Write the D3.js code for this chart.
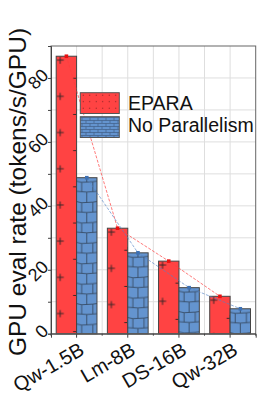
<!DOCTYPE html>
<html><head><meta charset="utf-8">
<script src="https://cdn.jsdelivr.net/npm/d3@7"></script>
<style>html,body{margin:0;padding:0;background:#fff}svg{display:block;font-family:"Liberation Sans",Arial,sans-serif}</style>
</head><body><svg id="c" width="280" height="395"></svg>
<script>
const categories = ["Qw-1.5B","Lm-8B","DS-16B","Qw-32B"];
const seriesNames = ["EPARA","No Parallelism"];
const epara = [86.8, 33.0, 22.7, 11.7];
const noPar = [48.8, 25.3, 14.4, 7.8];
const yTicks = [0,20,40,60,80];
const yTitle = "GPU eval rate (tokens/s/GPU)";

const svg = d3.select("#c");
const M = {l:51, r:255.7, t:46, b:333.7};
const x = d3.scaleBand().domain(categories).range([M.l, M.r]).padding(0);
const xs = d3.scaleBand().domain(seriesNames).range([0, x.bandwidth()]).paddingInner(0).paddingOuter(0.255);
const y = d3.scaleLinear().domain([0,90]).range([M.b, M.t]);
const RED = "#ff4343", BLUE = "#6494cf";
const defs = svg.append("defs");

// grid
const g = svg.append("g");
d3.range(10, 90, 10).forEach(v => g.append("line").attr("x1",M.l).attr("x2",M.r).attr("y1",y(v)).attr("y2",y(v)).attr("stroke","#dedede").attr("stroke-width",1));
const half = x.step()/2;
d3.range(1, categories.length*2).forEach(k => {
  const xx = M.l + k*half;
  g.append("line").attr("x1",xx).attr("x2",xx).attr("y1",M.t).attr("y2",M.b).attr("stroke","#dedede").attr("stroke-width",1);
});

const data = [];
categories.forEach((c,i) => {
  data.push({c, s:seriesNames[0], v:epara[i], i});
  data.push({c, s:seriesNames[1], v:noPar[i], i});
});

// patterns per bar
data.forEach((d,k) => {
  const bx = x(d.c) + xs(d.s), by = y(d.v), bw = xs.bandwidth();
  d.bx = bx; d.by = by; d.bw = bw; d.bh = y(0) - by;
  if (d.s === seriesNames[0]) {
    const p = defs.append("pattern").attr("id","pr"+k).attr("patternUnits","userSpaceOnUse")
      .attr("x",bx).attr("y",by).attr("width",33).attr("height",36.2);
    p.append("rect").attr("width",33).attr("height",36.2).attr("fill",RED);
    [[4,4],[20.5,22.1]].forEach(([cx,cy]) => {
      p.append("path").attr("d",`M${cx-3.6},${cy}H${cx+3.6}M${cx},${cy-3.6}V${cy+3.6}`).attr("stroke","#3a2626").attr("stroke-width",1);
    });
    d.fill = `url(#pr${k})`;
  } else {
    const w = bw, h = 20.4;
    const p = defs.append("pattern").attr("id","pb"+k).attr("patternUnits","userSpaceOnUse")
      .attr("x",bx).attr("y",by).attr("width",w).attr("height",h);
    p.append("rect").attr("width",w).attr("height",h).attr("fill",BLUE);
    const a = w*0.25, b = w*0.8, m = w*0.5;
    p.append("path").attr("d",
      `M0,3.5 L${a},4.6 L${b},4 L${w},3.5` +
      `M0,13.6 L${m},14.4 L${w},13.6` +
      `M${a},4.6 V14.1 M${b},4 V14` +
      `M${m},14.4 V20.4 M${m},0 V4.3`)
      .attr("fill","none").attr("stroke","#34475f").attr("stroke-width",0.85);
    d.fill = `url(#pb${k})`;
  }
});

svg.append("g").selectAll("rect").data(data).join("rect")
  .attr("x",d=>d.bx).attr("y",d=>d.by).attr("width",d=>d.bw).attr("height",d=>d.bh)
  .attr("fill",d=>d.fill).attr("stroke","#444").attr("stroke-width",1);

// connecting dashed lines + markers
const lineGen = d3.line();
[[epara, seriesNames[0], "rgba(255,60,60,0.85)", "#e81010"],[noPar, seriesNames[1], "rgba(80,130,200,0.8)", "#3d70b3"]].forEach(([vals, s, lc, mc]) => {
  const pts = vals.map((v,i) => [x(categories[i]) + xs(s) + xs.bandwidth()/2, y(v)]);
  svg.append("path").attr("d", lineGen(pts)).attr("fill","none").attr("stroke",lc).attr("stroke-width",0.8).attr("stroke-dasharray","3,1.5");
  svg.append("g").selectAll("rect").data(pts).join("rect")
    .attr("x",p=>p[0]-1.8).attr("y",p=>p[1]-1.8).attr("width",3.6).attr("height",3.6).attr("fill",mc);
});

// frame
svg.append("rect").attr("x",M.l).attr("y",M.t).attr("width",M.r-M.l).attr("height",M.b-M.t)
  .attr("fill","none").attr("stroke","#666").attr("stroke-width",1);

// y axis
const yAxis = svg.append("g").attr("transform",`translate(${M.l},0)`)
  .call(d3.axisLeft(y).tickValues(d3.range(0,90,10)).tickSize(3).tickFormat(""));
yAxis.select(".domain").attr("stroke","#444");
yAxis.selectAll(".tick line").attr("stroke","#444");
svg.append("g").selectAll("text").data(yTicks).join("text")
  .attr("transform", v => `translate(${M.l-6},${y(v)-6}) rotate(-45)`)
  .attr("text-anchor","end").attr("dy","0.35em").attr("font-size",18).attr("fill","#111").text(v=>v);

// x axis
const xAxis = svg.append("g").attr("transform",`translate(0,${M.b})`)
  .call(d3.axisBottom(x).tickSize(4).tickFormat(""));
xAxis.select(".domain").attr("stroke","#444");
xAxis.selectAll(".tick line").attr("stroke","#444");
d3.range(0, categories.length+1).forEach(k => {
  const xx = M.l + k*x.step();
  svg.append("line").attr("x1",xx).attr("x2",xx).attr("y1",M.b).attr("y2",M.b+2).attr("stroke","#444");
});
svg.append("g").selectAll("text").data(categories).join("text")
  .attr("transform", c => `translate(${x(c)+x.bandwidth()/2+9},${M.b+20}) rotate(-30)`)
  .attr("text-anchor","end").attr("font-size",20).attr("fill","#111").text(c=>c);

// y title
svg.append("text").attr("transform",`translate(26,192) rotate(-90)`).attr("text-anchor","middle")
  .attr("font-size",24.5).attr("fill","#111").text(yTitle);

// legend
const lp1 = defs.append("pattern").attr("id","ld").attr("patternUnits","userSpaceOnUse").attr("x",80).attr("y",92).attr("width",6.5).attr("height",6.5);
lp1.append("rect").attr("width",6.5).attr("height",6.5).attr("fill",RED);
lp1.append("circle").attr("cx",3.2).attr("cy",3.2).attr("r",0.55).attr("fill","#7a2020");
const lp2 = defs.append("pattern").attr("id","lb").attr("patternUnits","userSpaceOnUse").attr("x",80).attr("y",117).attr("width",8).attr("height",6);
lp2.append("rect").attr("width",8).attr("height",6).attr("fill",BLUE);
lp2.append("path").attr("d","M0,0.5H8M0,3.5H8M2,0.5V3.5M6,3.5V6.5").attr("stroke","#3a5478").attr("stroke-width",0.6).attr("fill","none");
const leg = svg.append("g");
const legFills = ["url(#ld)","url(#lb)"];
seriesNames.forEach((s,i) => {
  leg.append("rect").attr("x",80.3).attr("y",92.7+i*24).attr("width",39).attr("height",20.8)
    .attr("fill",legFills[i]).attr("stroke","#555").attr("stroke-width",1);
  leg.append("text").attr("x",128).attr("y",110+i*21.5).attr("font-size",19.5).attr("fill","#111").text(s);
});
</script></body></html>
